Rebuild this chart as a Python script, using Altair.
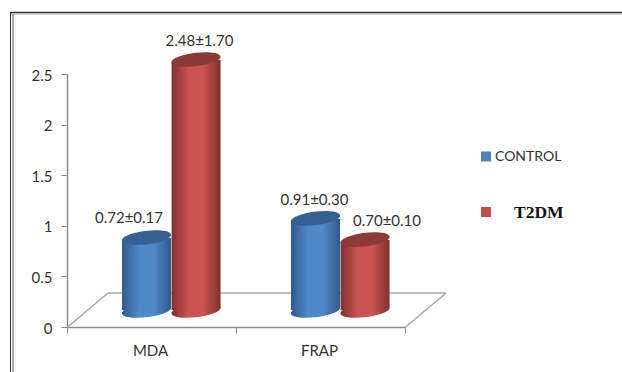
import altair as alt
import pandas as pd

# Group means with the mean±SD text printed above each cylinder
categories = ["MDA", "MDA", "FRAP", "FRAP"]
series = ["CONTROL", "T2DM", "CONTROL", "T2DM"]
values = [0.72, 2.48, 0.91, 0.70]
labels = ["0.72±0.17", "2.48±1.70", "0.91±0.30", "0.70±0.10"]
category_order = ["MDA", "FRAP"]
y_ticks = [0, 0.5, 1, 1.5, 2, 2.5]
legend_names = ["CONTROL", "T2DM"]

df = pd.DataFrame({"category": categories, "series": series, "value": values, "label": labels})

PLOT_W, PLOT_H = 338, 253
LEFT, TOP = 67, 74
BAR_W = 49.5
LIFT = 16.5  # cylinders stand on the raised floor, above the axis baseline
AXIS_GRAY = "#8c8c8c"
TEXT = "#333333"
FONT = "Lato"

# Sideways offset of each cylinder from the band centre (px)
BAR_DX = {"CONTROL": -5, "T2DM": 44.5}

STYLE = {
    "CONTROL": {"edge": "#2f5a8c", "mid": "#5088c8", "top": "#376092", "solid": "#4f81bd"},
    "T2DM": {"edge": "#7c3130", "mid": "#cb5351", "top": "#8c3a38", "solid": "#c0504d"},
}

# Unit-square ellipse, tilted slightly upward to the right
ELLIPSE = "M-0.9925,0.1219 A1,0.27,-7,1,1,0.9925,-0.1219 A1,0.27,-7,1,1,-0.9925,0.1219 Z"

x_enc = alt.X(
    "category:N",
    sort=category_order,
    scale=alt.Scale(domain=category_order, paddingInner=0, paddingOuter=0),
    axis=alt.Axis(
        title=None, labelAngle=0, tickBand="extent", tickSize=6, tickColor=AXIS_GRAY,
        domainColor=AXIS_GRAY, domainWidth=1.5, labelFont=FONT, labelFontSize=15,
        labelColor=TEXT, labelPadding=10.5, labelOffset=-1.5,
    ),
)
# Axis scale and the same scale moved up onto the floor
axis_scale = alt.Scale(domain=[0, 2.5], nice=False, range=[PLOT_H, 0])
floor_scale = alt.Scale(domain=[0, 2.5], nice=False, range=[PLOT_H - LIFT, -LIFT])
y_axis = alt.Y(
    "value:Q",
    scale=axis_scale,
    axis=alt.Axis(
        title=None, values=y_ticks, format="~g", grid=False, tickSize=6, tickColor=AXIS_GRAY,
        domainColor=AXIS_GRAY, domainWidth=1.5, labelFont=FONT, labelFontSize=15,
        labelColor=TEXT, labelPadding=9, labelOffset=1,
    ),
)
y_plain = alt.Y("value:Q", scale=axis_scale, axis=None)
y_floor = alt.Y("value:Q", scale=floor_scale, axis=None)


def px_x(v):
    return alt.value(v - LEFT)


def px_y(v):
    return alt.value(v - TOP)


def seg(x1, y1, x2, y2, color, width):
    """Straight decorative line given in page pixels."""
    return alt.Chart(df.head(1)).mark_rule(color=color, strokeWidth=width).encode(
        x=px_x(x1), x2=px_x(x2), y=px_y(y1), y2=px_y(y2)
    )


def gradient(name):
    s = STYLE[name]
    return alt.Gradient(
        gradient="linear", x1=0, x2=1, y1=0, y2=0,
        stops=[
            alt.GradientStop(color=s["edge"], offset=0),
            alt.GradientStop(color=s["mid"], offset=0.35),
            alt.GradientStop(color=s["mid"], offset=0.65),
            alt.GradientStop(color=s["edge"], offset=1),
        ],
    )


def cylinder(name, category):
    sub = df[(df.series == name) & (df.category == category)]
    dx = BAR_DX[name]
    bottom = alt.Chart(sub).mark_point(
        shape=ELLIPSE, size=BAR_W ** 2, filled=True, fill=gradient(name), opacity=1,
        strokeWidth=0, xOffset=dx,
    ).encode(x=x_enc, y=alt.Y(datum=0, scale=floor_scale, axis=None))
    body = alt.Chart(sub).mark_bar(
        width=BAR_W, fill=gradient(name), xOffset=dx,
        cornerRadiusTopLeft=4, cornerRadiusBottomRight=4,
    ).encode(x=x_enc, y=y_floor)
    top = alt.Chart(sub).mark_point(
        shape=ELLIPSE, size=BAR_W ** 2, filled=True, fill=STYLE[name]["top"], opacity=1,
        strokeWidth=0, xOffset=dx,
    ).encode(x=x_enc, y=y_floor)
    return [bottom, body, top]


# First layer carries both axes; its marks stay invisible
layers = [alt.Chart(df).mark_point(opacity=0).encode(x=x_enc, y=y_axis)]

# Raised floor of the 3-D plot
layers += [
    seg(67, 327.5, 108, 293, "#a6a6a6", 1.5),
    seg(108, 293, 446, 293, "#a6a6a6", 1.5),
    seg(446, 293, 405, 327.5, "#a6a6a6", 1.5),
]

# Cylinders, back to front within each category
for cat in category_order:
    for name in legend_names:
        layers += cylinder(name, cat)

# Value captions, each nudged off its cylinder
CAPTION_DX = {"0.72±0.17": -22.5, "2.48±1.70": 48, "0.91±0.30": -6, "0.70±0.10": 66.5}
CAPTION_DY = {"0.72±0.17": -36, "2.48±1.70": -35, "0.91±0.30": -35, "0.70±0.10": -35}
for lab in labels:
    layers.append(
        alt.Chart(df[df.label == lab]).mark_text(
            font=FONT, fontSize=15, color=TEXT, align="center", baseline="middle",
            dx=CAPTION_DX[lab], dy=CAPTION_DY[lab],
        ).encode(x=x_enc, y=y_plain, text="label:N")
    )

# Hand-placed legend: the two names use different typefaces
legend_df = pd.DataFrame({"series": legend_names})
legend_y = {"CONTROL": 156.5, "T2DM": 212}
for name in legend_names:
    row = legend_df[legend_df.series == name]
    layers.append(
        alt.Chart(row).mark_square(size=100, color=STYLE[name]["solid"], opacity=1).encode(
            x=px_x(486), y=px_y(legend_y[name])
        )
    )
layers.append(
    alt.Chart(legend_df[legend_df.series == "CONTROL"]).mark_text(
        font=FONT, fontSize=14, color=TEXT, align="left", baseline="middle"
    ).encode(x=px_x(495), y=px_y(156.5), text="series:N")
)
layers.append(
    alt.Chart(legend_df[legend_df.series == "T2DM"]).mark_text(
        font="Liberation Serif", fontSize=17.5, fontWeight="bold", color="#111111",
        align="left", baseline="middle",
    ).encode(x=px_x(514), y=px_y(213), text="series:N")
)

# Double frame along the top and left of the page
layers += [
    seg(10, 12.5, 622, 12.5, "#333333", 1.5),
    seg(10, 14, 622, 14, "#aaaaaa", 1),
    seg(10.5, 12, 10.5, 372, "#333333", 1),
    seg(13, 14, 13, 372, "#555555", 1),
]

chart = (
    alt.layer(*layers)
    .resolve_scale(x="shared", y="independent")
    .properties(
        width=PLOT_W, height=PLOT_H, background="white",
        padding={"left": LEFT, "top": TOP, "right": 622 - LEFT - PLOT_W, "bottom": 372 - TOP - PLOT_H},
        autosize=alt.AutoSizeParams(type="none"),
    )
    .configure_view(stroke=None)
)

chart.save("out.html", embed_options={"renderer": "svg", "actions": False})
